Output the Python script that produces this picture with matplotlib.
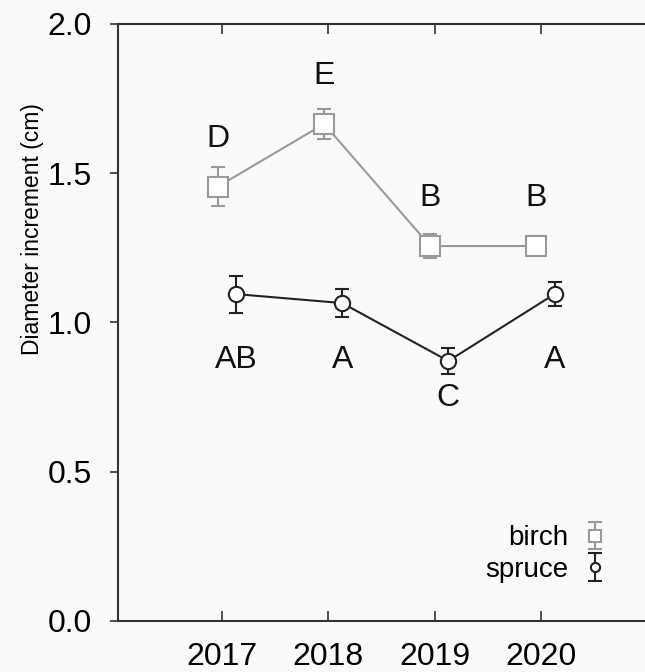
import matplotlib
matplotlib.use('Agg')
import matplotlib.pyplot as plt

years = [2017, 2018, 2019, 2020]
birch = [1.455, 1.665, 1.256, 1.256]
birch_err = [0.065, 0.05, 0.04, 0.035]
spruce = [1.095, 1.065, 0.871, 1.095]
spruce_err = [0.062, 0.047, 0.045, 0.04]
birch_letters = ['D', 'E', 'B', 'B']
spruce_letters = ['AB', 'A', 'C', 'A']
spruce_letter_y = [0.874, 0.874, 0.747, 0.874]

plt.rcParams['font.family'] = ['Liberation Sans', 'DejaVu Sans']

bg = '#fafafa'
gray = '#9a9a9a'
dark = '#222222'

fig = plt.figure(figsize=(6.45, 6.72), dpi=100, facecolor=bg)
ax = fig.add_axes([0.183, 0.0759, 0.82, 0.8885], facecolor=bg)

bx = [y - 0.04 for y in years]
sx = [y + 0.13 for y in years]

ax.plot(bx, birch, color=gray, lw=1.5, zorder=2)
ax.errorbar(bx, birch, yerr=birch_err, fmt='s', ms=14, mfc='white', mec=gray, mew=1.5,
            ecolor=gray, elinewidth=1.5, capsize=5, capthick=1.5, zorder=3, label='birch')
ax.plot(sx, spruce, color=dark, lw=1.5, zorder=2)
ax.errorbar(sx, spruce, yerr=spruce_err, fmt='o', ms=11, mfc='white', mec=dark, mew=1.5,
            ecolor=dark, elinewidth=1.5, capsize=5, capthick=1.5, zorder=3, label='spruce')

# significance letters
for x, y, t in zip(bx, birch, birch_letters):
    ax.text(x, y + 0.16, t, ha='center', va='center', fontsize=23, color='#111111')
for x, y, t in zip(sx, spruce_letter_y, spruce_letters):
    ax.text(x, y, t, ha='center', va='center', fontsize=23, color='#111111')

ax.set_xlim(2016.02, 2021.0)
ax.set_ylim(0, 2.0)
ax.set_xticks(years)
ax.set_yticks([0, 0.5, 1.0, 1.5, 2.0])
ax.set_yticklabels(['0.0', '0.5', '1.0', '1.5', '2.0'])
ax.tick_params(axis='x', direction='in', length=7, width=1.2, labelsize=23, pad=15,
               top=True, color='#333333')
ax.tick_params(axis='y', direction='out', length=6, width=1.2, labelsize=23, pad=13,
               color='#333333')
for s in ax.spines.values():
    s.set_color('#333333')
    s.set_linewidth(1.5)

ax.set_ylabel('Diameter increment (cm)', fontsize=16.5,
              family=['Liberation Sans Narrow', 'Liberation Sans', 'DejaVu Sans'])
ax.yaxis.set_label_coords(-0.14, 0.657)

ax.legend(loc='lower right', bbox_to_anchor=(0.975, 0.022), frameon=False, markerfirst=False,
          fontsize=20, markerscale=0.6, handlelength=1.0, handletextpad=0.44, labelspacing=0.2)

plt.savefig('out.png', dpi=100, facecolor=bg)
